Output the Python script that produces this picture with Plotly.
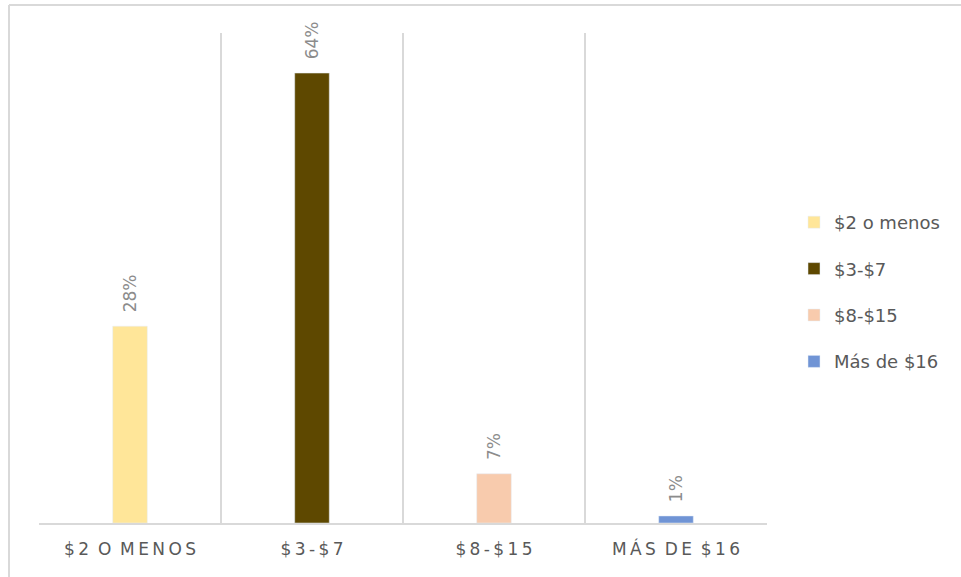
import plotly.graph_objects as go

categories = ["$2 o menos", "$3-$7", "$8-$15", "Más de $16"]
values = [0.28, 0.64, 0.07, 0.01]
colors = ["#FFE699", "#5E4800", "#F8CBAD", "#7094D5"]
tick_labels = ["$2 O MENOS", "$3-$7", "$8-$15", "MÁS DE $16"]

W, H = 961, 577
L, R, T, B = 39, 194, 33, 54
pw, ph = W - L - R, H - T - B

def spaced(s):
    words = s.split(" ")
    return "\u2009\u00a0".join("\u2009".join(list(w)) for w in words)

fig = go.Figure()
for i, (c, v, col) in enumerate(zip(categories, values, colors)):
    fig.add_trace(go.Bar(
        x=[categories[i]], y=[v], name=c, marker_color=col,
        width=0.19, legendgroup=c,
        text=[v], texttemplate="\u00a0\u00a0%{y:.0%}", textposition="outside",
        textangle=-90, cliponaxis=False, constraintext="none",
        textfont=dict(family="DejaVu Sans", size=17, color="#8C8C8C"),
    ))

fig.update_layout(
    width=W, height=H, barmode="overlay",
    margin=dict(l=L, r=R, t=T, b=B),
    paper_bgcolor="white", plot_bgcolor="white",
    font=dict(family="DejaVu Sans", color="#595959"),
    legend=dict(x=(794 - L) / pw, y=(523 - 292) / ph, xanchor="left", yanchor="middle",
                font=dict(size=18, color="#595959"), tracegroupgap=20,
                itemwidth=30),
    xaxis=dict(type="category", range=[-0.5, 3.5], tickson="boundaries",
               showgrid=True, gridcolor="#D9D9D9", gridwidth=1.5,
               showline=True, linecolor="#D9D9D9", linewidth=1.5,
               ticks="", tickmode="array", tickvals=categories,
               ticktext=[spaced(t) for t in tick_labels],
               tickfont=dict(size=17, color="#595959"), ticklabelstandoff=10),
    yaxis=dict(range=[0, 0.697], showgrid=False, showticklabels=False,
               zeroline=False, ticks=""),
    shapes=[
        dict(type="line", xref="paper", yref="paper",
             x0=(9 - L) / pw, x1=(W - L) / pw, y0=(523 - 5) / ph, y1=(523 - 5) / ph,
             line=dict(color="#D9D9D9", width=2)),
        dict(type="line", xref="paper", yref="paper",
             x0=(9 - L) / pw, x1=(9 - L) / pw, y0=(523 - 5) / ph, y1=(523 - H) / ph,
             line=dict(color="#D9D9D9", width=2)),
    ],
)

fig.write_html("out.html")
